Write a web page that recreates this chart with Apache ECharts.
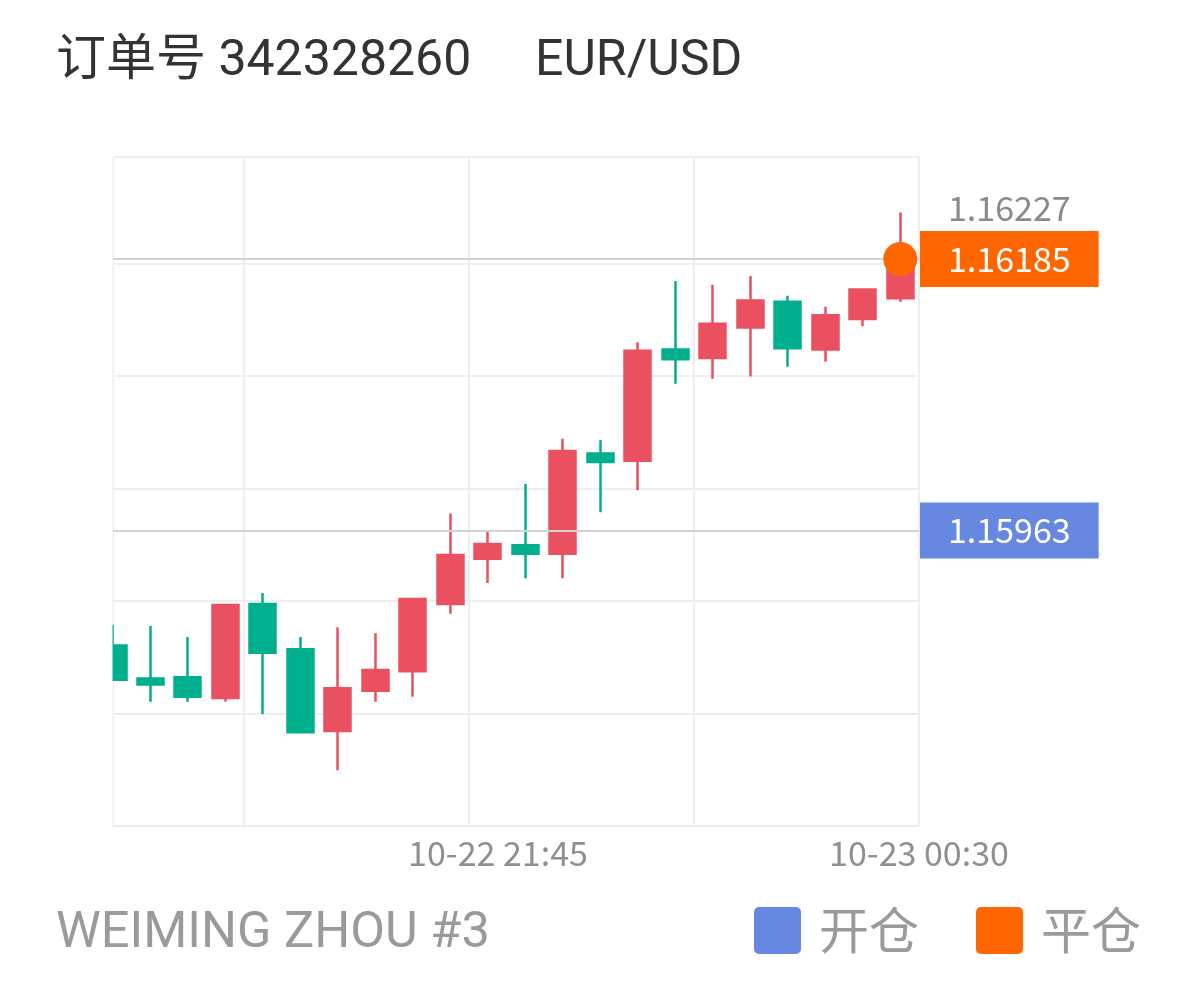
<!DOCTYPE html>
<html>
<head>
<meta charset="utf-8">
<script src="https://cdn.jsdelivr.net/npm/echarts@6/dist/echarts.min.js"></script>
<style>
html,body{margin:0;padding:0;background:#fff;}
#main{width:1198px;height:990px;}
</style>
</head>
<body>
<div id="main"></div>
<script>
// ---- data (15-minute candles, EUR/USD) ----
const times = ['10-22 19:15','10-22 19:30','10-22 19:45','10-22 20:00','10-22 20:15','10-22 20:30','10-22 20:45','10-22 21:00','10-22 21:15','10-22 21:30','10-22 21:45',
               '10-22 22:00','10-22 22:15','10-22 22:30','10-22 22:45','10-22 23:00','10-22 23:15','10-22 23:30','10-22 23:45','10-23 00:00','10-23 00:15','10-23 00:30'];
const open  = [1.15869,1.15842,1.15843,1.15826,1.15903,1.15866,1.15799,1.15832,1.15848,1.15903,1.15940,1.15951,1.15944,1.16026,1.16020,1.16111,1.16104,1.16129,1.16150,1.16111,1.16136,1.16153];
const close = [1.15841,1.15837,1.15827,1.15902,1.15863,1.15798,1.15834,1.15849,1.15907,1.15943,1.15952,1.15944,1.16028,1.16019,1.16110,1.16103,1.16132,1.16151,1.16112,1.16139,1.16160,1.16185];
const low   = [1.15841,1.15823,1.15823,1.15823,1.15813,1.15798,1.15767,1.15823,1.15827,1.15895,1.15920,1.15924,1.15924,1.15978,1.15996,1.16083,1.16087,1.16089,1.16097,1.16101,1.16130,1.16150];
const high  = [1.15886,1.15885,1.15876,1.15902,1.15912,1.15876,1.15884,1.15879,1.15907,1.15977,1.15962,1.16001,1.16038,1.16037,1.16117,1.16167,1.16164,1.16171,1.16155,1.16146,1.16160,1.16223];
const openPrice  = 1.15963;   // 开仓
const closePrice = 1.16185;   // 平仓
const highLabel  = 1.16227;
const xLabelText = ['10-22 21:45','10-23 00:30'];
const xLabelAt   = [10.27, 21.5];
const yMin = 1.157214, yMax = 1.162684, yStep = 0.00092;
const xMax = 21.5, xStep = 6;

const RED = '#eb5061', GREEN = '#00af8e', BLUE = '#6788e0', ORANGE = '#ff6600';
const CJK = '"Noto Sans CJK SC"';
const ROBOTO = 'Roboto, "Noto Sans CJK SC"';

const candles = open.map((o, i) => [i, o, close[i], low[i], high[i]]);
const lastIdx = open.length - 1;

const G = {left: 113, top: 157, right: 279, bottom: 164};

const chart = echarts.init(document.getElementById('main'), null, {renderer: 'canvas'});
chart.setOption({
  animation: false,
  backgroundColor: '#fff',
  title: [
    {text: '订单号 342328260', left: 56, top: 38, padding: 0,
     textStyle: {fontSize: 50, fontWeight: 'normal', color: '#333', fontFamily: ROBOTO}},
    {text: 'EUR/USD', left: 535, top: 38, padding: 0,
     textStyle: {fontSize: 50, fontWeight: 'normal', color: '#333', fontFamily: ROBOTO}},
    {text: 'WEIMING ZHOU #3', left: 56, top: 909, padding: 0,
     textStyle: {fontSize: 50.5, fontWeight: 'normal', color: '#9a9a9a', fontFamily: ROBOTO}}
  ],
  grid: G,
  xAxis: [
    {type: 'value', min: 0, max: xMax,
     axisLine: {show: false}, axisTick: {show: false}, splitLine: {show: false},
     axisLabel: {customValues: xLabelAt, margin: 10, fontSize: 34, color: '#8f8f8f', fontFamily: CJK,
       formatter: v => { const k = xLabelAt.findIndex(a => Math.abs(a - v) < 1e-6); return k >= 0 ? xLabelText[k] : ''; }}},
    {type: 'value', inverse: true, min: 0, max: xMax, interval: xStep, position: 'bottom',
     axisLine: {show: false}, axisTick: {show: false}, axisLabel: {show: false},
     splitLine: {show: true, lineStyle: {color: '#eeeeee', width: 2}}}
  ],
  yAxis: [
    {type: 'value', min: yMin, max: yMax, scale: true,
     axisLine: {show: false}, axisTick: {show: false}, axisLabel: {show: false}, splitLine: {show: false}},
    {type: 'value', min: 0, max: (yMax - yMin) / yStep, interval: 1, position: 'left',
     axisLine: {show: false}, axisTick: {show: false}, axisLabel: {show: false},
     splitLine: {show: true, lineStyle: {color: '#eeeeee', width: 2}}}
  ],
  series: [{
    type: 'candlestick',
    xAxisIndex: 0, yAxisIndex: 0,
    data: candles,
    encode: {x: 0, y: [1, 2, 3, 4]},
    barWidth: 26.5,
    clip: true,
    itemStyle: {color: RED, color0: GREEN, borderColor: RED, borderColor0: GREEN, borderWidth: 2.5},
    markLine: {
      symbol: ['none', 'none'], silent: true, animation: false, precision: 5,
      lineStyle: {color: '#d2d2d2', width: 2, type: 'solid'},
      label: {position: 'end', distance: 1, fontSize: 34, lineHeight: 34, fontFamily: CJK, color: '#fff',
              padding: [11, 28, 11, 28], formatter: p => Number(p.value).toFixed(5)},
      data: [
        {yAxis: openPrice, label: {backgroundColor: BLUE}},
        {yAxis: closePrice, label: {backgroundColor: ORANGE}},
        {yAxis: highLabel, lineStyle: {color: 'rgba(255,255,255,0)', width: 0},
         label: {color: '#8a8a8a', backgroundColor: 'rgba(255,255,255,0)'}}
      ]
    },
    markPoint: {
      silent: true, animation: false,
      symbol: 'circle', symbolSize: 34,
      itemStyle: {color: ORANGE},
      label: {show: false},
      data: [{coord: [lastIdx, closePrice]}]
    }
  }],
  graphic: [
    // mask so the first, half-visible candle is cut at the plot edge
    {type: 'rect', z: 100, shape: {x: G.left - 40, y: G.top, width: 39.5, height: 990 - G.top - G.bottom}, style: {fill: '#fff'}},
    {type: 'rect', shape: {x: 754, y: 907, width: 47, height: 47, r: 5}, style: {fill: BLUE}},
    {type: 'text', x: 819, y: 930, style: {text: '开仓', fontSize: 50, fontFamily: CJK, fill: '#9a9a9a', verticalAlign: 'middle'}},
    {type: 'rect', shape: {x: 976, y: 907, width: 47, height: 47, r: 5}, style: {fill: ORANGE}},
    {type: 'text', x: 1041, y: 930, style: {text: '平仓', fontSize: 50, fontFamily: CJK, fill: '#9a9a9a', verticalAlign: 'middle'}}
  ]
});
</script>
</body>
</html>
